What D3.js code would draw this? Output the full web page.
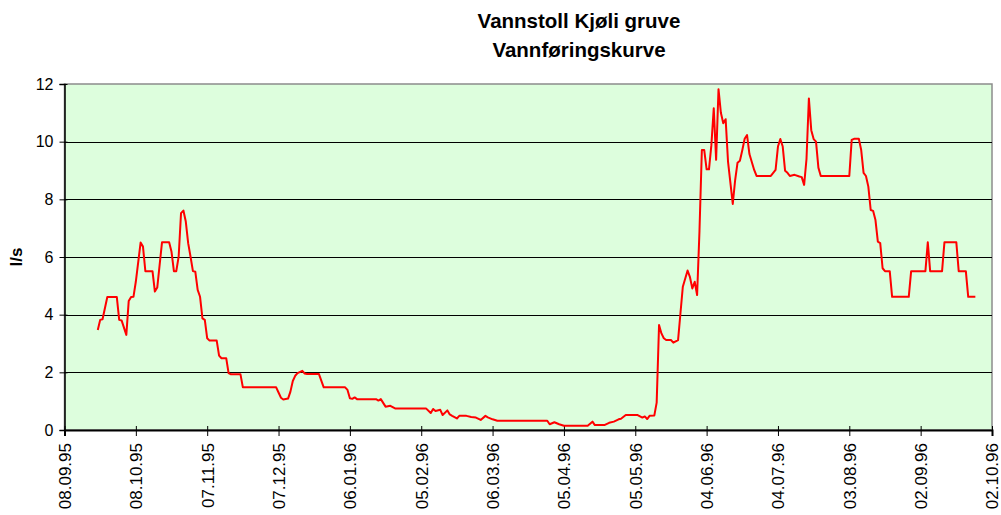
<!DOCTYPE html>
<html>
<head>
<meta charset="utf-8">
<script src="https://cdn.jsdelivr.net/npm/d3@7"></script>
<style>
  html, body { margin: 0; padding: 0; background: #ffffff; }
  svg { display: block; font-family: "Liberation Sans", Arial, sans-serif; }
</style>
</head>
<body>
<svg id="chart" width="1001" height="515"></svg>
<script>
const titleLines = ["Vannstoll Kjøli gruve", "Vannføringskurve"];
const yLabel = "l/s";
const yTicks = [0, 2, 4, 6, 8, 10, 12];
const xTickLabels = ["08.09.95","08.10.95","07.11.95","07.12.95","06.01.96","05.02.96","06.03.96","05.04.96","05.05.96","04.06.96","04.07.96","03.08.96","02.09.96","02.10.96"];

const dates = [
  "22.09.95","23.09.95","24.09.95","26.09.95","30.09.95","01.10.95","02.10.95","04.10.95","05.10.95","06.10.95",
  "07.10.95","08.10.95","10.10.95","11.10.95","12.10.95","15.10.95","16.10.95","17.10.95","19.10.95","22.10.95",
  "23.10.95","24.10.95","25.10.95","26.10.95","27.10.95","28.10.95","29.10.95","30.10.95","31.10.95","01.11.95",
  "02.11.95","03.11.95","04.11.95","05.11.95","06.11.95","07.11.95","08.11.95","11.11.95","12.11.95","13.11.95",
  "15.11.95","16.11.95","17.11.95","21.11.95","22.11.95","06.12.95","07.12.95","08.12.95","09.12.95","11.12.95",
  "12.12.95","13.12.95","14.12.95","15.12.95","17.12.95","18.12.95","19.12.95","24.12.95","26.12.95","04.01.96",
  "05.01.96","06.01.96","07.01.96","08.01.96","09.01.96","17.01.96","18.01.96","19.01.96","21.01.96","23.01.96",
  "25.01.96","07.02.96","09.02.96","10.02.96","11.02.96","13.02.96","14.02.96","16.02.96","17.02.96","18.02.96",
  "20.02.96","21.02.96","24.02.96","26.02.96","28.02.96","01.03.96","03.03.96","04.03.96","06.03.96","08.03.96",
  "29.03.96","30.03.96","01.04.96","03.04.96","05.04.96","15.04.96","17.04.96","18.04.96","22.04.96","24.04.96",
  "26.04.96","28.04.96","29.04.96","01.05.96","06.05.96","08.05.96","09.05.96","10.05.96","11.05.96","13.05.96",
  "14.05.96","15.05.96","16.05.96","17.05.96","18.05.96","20.05.96","21.05.96","23.05.96","24.05.96","25.05.96",
  "27.05.96","28.05.96","29.05.96","30.05.96","31.05.96","01.06.96","02.06.96","03.06.96","04.06.96","05.06.96",
  "06.06.96","07.06.96","08.06.96","09.06.96","10.06.96","11.06.96","12.06.96","13.06.96","15.06.96","16.06.96",
  "17.06.96","18.06.96","19.06.96","20.06.96","21.06.96","22.06.96","24.06.96","25.06.96","01.07.96","03.07.96",
  "04.07.96","05.07.96","06.07.96","07.07.96","08.07.96","09.07.96","11.07.96","13.07.96","14.07.96","15.07.96",
  "16.07.96","17.07.96","18.07.96","19.07.96","20.07.96","21.07.96","22.07.96","03.08.96","04.08.96","05.08.96",
  "07.08.96","08.08.96","09.08.96","10.08.96","11.08.96","12.08.96","13.08.96","14.08.96","15.08.96","16.08.96",
  "17.08.96","18.08.96","20.08.96","21.08.96","28.08.96","29.08.96","04.09.96","05.09.96","06.09.96","11.09.96",
  "12.09.96","17.09.96","18.09.96","21.09.96","22.09.96","25.09.96"
];
const flow = [
  3.47,3.82,3.84,4.61,4.61,3.82,3.80,3.30,4.47,4.61,
  4.62,5.15,6.50,6.36,5.51,5.51,4.80,4.94,6.51,6.51,
  6.18,5.51,5.51,6.01,7.52,7.61,7.23,6.48,6.01,5.51,
  5.49,4.86,4.62,3.87,3.82,3.18,3.10,3.10,2.58,2.49,
  2.49,1.97,1.93,1.93,1.48,1.48,1.30,1.12,1.06,1.09,
  1.33,1.70,1.88,1.97,2.05,1.96,1.94,1.94,1.48,1.48,
  1.39,1.10,1.08,1.13,1.07,1.07,1.02,1.07,0.81,0.84,
  0.75,0.75,0.59,0.73,0.66,0.70,0.52,0.68,0.54,0.49,
  0.40,0.49,0.49,0.45,0.43,0.35,0.49,0.44,0.37,0.32,
  0.32,0.20,0.27,0.20,0.15,0.15,0.29,0.17,0.17,0.25,
  0.29,0.37,0.39,0.52,0.52,0.43,0.47,0.38,0.49,0.50,
  0.95,3.64,3.35,3.18,3.12,3.12,3.03,3.12,4.05,4.97,
  5.53,5.30,4.91,5.14,4.68,6.90,9.71,9.71,9.04,9.04,
  9.88,11.16,9.37,11.82,11.00,10.64,10.78,9.31,7.84,8.67,
  9.27,9.34,9.70,10.10,10.23,9.57,9.02,8.81,8.81,9.02,
  9.83,10.09,9.83,8.99,8.92,8.81,8.85,8.79,8.77,8.50,
  9.40,11.50,10.40,10.09,10.00,9.10,8.81,8.81,10.06,10.10,
  10.10,9.71,8.92,8.81,8.44,7.63,7.60,7.28,6.53,6.48,
  5.61,5.51,5.51,4.62,4.62,5.51,5.51,6.51,5.51,5.51,
  6.51,6.51,5.51,5.51,4.62,4.62
];

const parse = d3.timeParse("%d.%m.%y");
const series = dates.map((d, i) => ({ date: parse(d), value: flow[i] }));
const tickDates = xTickLabels.map(parse);

const L = 64.5, R = 992, T = 84, B = 430;
const svg = d3.select("#chart");

const x = d3.scaleTime().domain([tickDates[0], tickDates[tickDates.length - 1]]).range([L, R]);
const y = d3.scaleLinear().domain([0, 12]).range([B, T]);

// plot background
svg.append("rect").attr("x", L).attr("y", T).attr("width", R - L).attr("height", B - T)
  .attr("fill", "#ddfedd").attr("stroke", "#8c8c8c").attr("stroke-width", 1.5);

// gridlines
svg.append("g").selectAll("line").data(yTicks.filter(v => v > 0 && v < 12)).join("line")
  .attr("x1", L).attr("x2", R)
  .attr("y1", d => Math.round(y(d)) + 0.5).attr("y2", d => Math.round(y(d)) + 0.5)
  .attr("stroke", "#000").attr("stroke-width", 1);

// y axis
const yAxis = svg.append("g").attr("transform", `translate(${L},0)`)
  .call(d3.axisLeft(y).tickValues(yTicks).tickSize(5).tickPadding(6).tickFormat(d3.format("d")));
yAxis.select(".domain").attr("stroke", "#000").attr("stroke-width", 1.5);
yAxis.selectAll(".tick line").attr("stroke", "#000").attr("x2", -5).attr("x1", 3);
yAxis.selectAll("text").attr("font-size", 16).attr("fill", "#000")
  .attr("font-family", "'Liberation Sans', Arial, sans-serif");

// x axis
const xAxis = svg.append("g").attr("transform", `translate(0,${B})`)
  .call(d3.axisBottom(x).tickValues(tickDates).tickSize(6).tickFormat((d, i) => xTickLabels[i]));
xAxis.select(".domain").attr("stroke", "#000").attr("stroke-width", 2);
xAxis.selectAll(".tick line").attr("stroke", "#000").attr("y1", -4).attr("y2", 6);
xAxis.selectAll("text")
  .attr("font-size", 17).attr("fill", "#000")
  .attr("font-family", "'Liberation Sans', Arial, sans-serif")
  .attr("transform", "rotate(-90)")
  .attr("text-anchor", "end")
  .attr("x", -13).attr("y", 0).attr("dy", "0.35em");

// line
const line = d3.line().x(d => x(d.date)).y(d => y(d.value));
svg.append("path").datum(series).attr("d", line)
  .attr("fill", "none").attr("stroke", "#ff0000").attr("stroke-width", 2)
  .attr("stroke-linejoin", "round");

// title
svg.append("g").selectAll("text").data(titleLines).join("text")
  .attr("x", 579).attr("y", (d, i) => 28 + i * 29)
  .attr("text-anchor", "middle").attr("font-weight", "bold").attr("font-size", 20.5)
  .attr("fill", "#000").text(d => d);

// y label
svg.append("text").attr("transform", `translate(22,${(T + B) / 2}) rotate(-90)`)
  .attr("text-anchor", "middle").attr("font-weight", "bold").attr("font-size", 17)
  .attr("fill", "#000").text(yLabel);
</script>
</body>
</html>
